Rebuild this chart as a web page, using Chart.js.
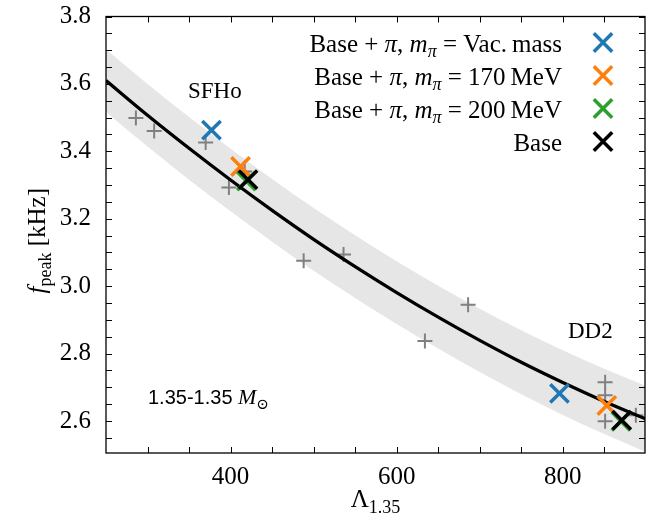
<!DOCTYPE html>
<html>
<head>
<meta charset="utf-8">
<script src="https://cdn.jsdelivr.net/npm/chart.js@4.4.1/dist/chart.umd.min.js"></script>
<style>
  html, body { margin: 0; padding: 0; background: #fff; }
  #wrap { width: 670px; height: 520px; position: relative; }
</style>
</head>
<body>
<div id="wrap"><canvas id="fpeak"></canvas></div>
<script>
// fit through all models + its grey band
const fitLambda = [250, 300, 350, 400, 450, 500, 550, 600, 650, 700, 750, 800, 850, 900];
const fitFreq   = [3.610, 3.507, 3.409, 3.315, 3.225, 3.139, 3.058, 2.981, 2.908, 2.839, 2.774, 2.714, 2.658, 2.606];
const bandUpper = [3.703, 3.600, 3.502, 3.408, 3.318, 3.232, 3.151, 3.074, 3.001, 2.933, 2.869, 2.810, 2.755, 2.704];
const bandLower = [3.517, 3.414, 3.316, 3.222, 3.132, 3.046, 2.965, 2.888, 2.815, 2.745, 2.679, 2.618, 2.561, 2.508];

// other EOS models (grey plus)
const otherLambda = [286, 308, 370, 398, 417, 488, 536, 634, 686, 851, 851, 851, 888];
const otherFreq   = [3.499, 3.460, 3.426, 3.293, 3.340, 3.075, 3.094, 2.837, 2.945, 2.715, 2.676, 2.599, 2.617];

// SFHo, DD2 runs
const vacLambda  = [377, 796];
const vacFreq    = [3.463, 2.682];
const m170Lambda = [412, 853];
const m170Freq   = [3.355, 2.646];
const m200Lambda = [419, 870];
const m200Freq   = [3.312, 2.599];
const baseLambda = [421, 871];
const baseFreq   = [3.316, 2.602];

// ticks
const xTicks = [300, 350, 400, 450, 500, 550, 600, 650, 700, 750, 800, 850];
const xTickLabels = [400, 600, 800];
const yTicks = [2.55, 2.6, 2.65, 2.7, 2.75, 2.8, 2.85, 2.9, 2.95, 3.0, 3.05, 3.1, 3.15,
                3.2, 3.25, 3.3, 3.35, 3.4, 3.45, 3.5, 3.55, 3.6, 3.65, 3.7, 3.75, 3.8];
const yTickLabels = [2.6, 2.8, 3.0, 3.2, 3.4, 3.6, 3.8];

const serif = '"Liberation Serif", "DejaVu Serif", serif';
const sans = '"Liberation Sans", "DejaVu Sans", sans-serif';

const colors = { vac: '#1f77b4', m170: '#ff7f0e', m200: '#2ca02c', base: '#000000' };

// legend rows: [text, style]   r = roman, i = italic, s.. = subscript
const legendRows = [
    { color: colors.vac,  segs: [['Base', 'r'], [' + ', 'r'], ['π', 'i'], [', ', 'r'], ['m', 'i'], ['π', 'si'], [' = ', 'r'], ['Vac.\u2009mass', 'r']] },
    { color: colors.m170, segs: [['Base', 'r'], [' + ', 'r'], ['π', 'i'], [', ', 'r'], ['m', 'i'], ['π', 'si'], [' = ', 'r'], ['170\u2009MeV', 'r']] },
    { color: colors.m200, segs: [['Base', 'r'], [' + ', 'r'], ['π', 'i'], [', ', 'r'], ['m', 'i'], ['π', 'si'], [' = ', 'r'], ['200\u2009MeV', 'r']] },
    { color: colors.base, segs: [['Base', 'r']] },
];

const pts = (xs, ys) => xs.map((v, i) => ({ x: v, y: ys[i] }));

const drawRich = (ctx, segs, x, y, size, align) => {
    const fontFor = (st) => {
        const small = st[0] === 's';
        const italic = st.indexOf('i') >= 0;
        const sz = small ? Math.round(size * 0.7) : size;
        return { font: (italic ? 'italic ' : '') + sz + 'px ' + serif, dy: small ? size * 0.22 : 0 };
    };
    ctx.save();
    ctx.textBaseline = 'alphabetic';
    ctx.textAlign = 'left';
    ctx.fillStyle = '#000';
    let total = 0;
    segs.forEach(([t, st]) => { ctx.font = fontFor(st).font; total += ctx.measureText(t).width; });
    let cx = align === 'right' ? x - total : align === 'center' ? x - total / 2 : x;
    segs.forEach(([t, st]) => {
        const f = fontFor(st);
        ctx.font = f.font;
        ctx.fillText(t, cx, y + f.dy);
        cx += ctx.measureText(t).width;
    });
    ctx.restore();
};

const frameAndText = {
    id: 'frameAndText',
    afterDraw(chart) {
        const { ctx, chartArea: a, scales: { x, y } } = chart;
        ctx.save();

        // inward ticks on all four sides
        ctx.strokeStyle = '#000';
        ctx.lineWidth = 1;
        ctx.beginPath();
        x.ticks.forEach(t => {
            const px = Math.round(x.getPixelForValue(t.value)) + 0.5;
            ctx.moveTo(px, a.bottom); ctx.lineTo(px, a.bottom - 6);
            ctx.moveTo(px, a.top); ctx.lineTo(px, a.top + 6);
        });
        y.ticks.forEach(t => {
            const py = Math.round(y.getPixelForValue(t.value)) + 0.5;
            ctx.moveTo(a.left, py); ctx.lineTo(a.left + 6, py);
            ctx.moveTo(a.right, py); ctx.lineTo(a.right - 6, py);
        });
        ctx.stroke();
        ctx.lineWidth = 1.3;
        ctx.strokeRect(a.left, a.top, a.right - a.left, a.bottom - a.top);

        // axis titles
        drawRich(ctx, [['Λ', 'r'], ['1.35', 'sr']], (a.left + a.right) / 2, 507, 25, 'center');
        ctx.save();
        ctx.translate(45, (a.top + a.bottom) / 2 + 6);
        ctx.rotate(-Math.PI / 2);
        drawRich(ctx, [['f', 'i'], ['peak', 'sr'], [' [kHz]', 'r']], 0, 0, 25, 'center');
        ctx.restore();

        // annotations
        ctx.fillStyle = '#000';
        ctx.textBaseline = 'alphabetic';
        ctx.textAlign = 'left';
        ctx.font = '23px ' + serif;
        ctx.fillText('SFHo', 188, 98);
        ctx.fillText('DD2', 568, 338);
        ctx.font = '20px ' + sans;
        ctx.fillText('1.35-1.35', 148, 404);
        drawRich(ctx, [['M', 'i'], ['\u2299', 'sr']], 238, 404, 22, 'left');

        // legend
        legendRows.forEach((row, i) => {
            const base = 51.5 + i * 33;
            drawRich(ctx, row.segs, 562, base, 25, 'right');
            ctx.strokeStyle = row.color;
            ctx.lineWidth = 3.5;
            Chart.helpers.drawPoint(ctx, { pointStyle: 'crossRot', radius: 13, rotation: 0, borderWidth: 3.5 }, 603, base - 9);
        });
        ctx.restore();
    }
};

const crossSet = (label, xs, ys, color, order) => ({
    label: label,
    data: pts(xs, ys),
    pointStyle: 'crossRot',
    pointRadius: 13,
    pointBorderWidth: 3.5,
    borderColor: color,
    backgroundColor: color,
    order: order,
});

new Chart(document.getElementById('fpeak'), {
    type: 'scatter',
    data: {
        datasets: [
            {
                label: 'band upper',
                data: pts(fitLambda, bandUpper),
                showLine: true,
                fill: '+1',
                backgroundColor: '#e6e6e6',
                borderColor: 'rgba(0,0,0,0)',
                borderWidth: 0,
                pointRadius: 0,
                cubicInterpolationMode: 'monotone',
                order: 10,
            },
            {
                label: 'band lower',
                data: pts(fitLambda, bandLower),
                showLine: true,
                fill: false,
                borderColor: 'rgba(0,0,0,0)',
                borderWidth: 0,
                pointRadius: 0,
                cubicInterpolationMode: 'monotone',
                order: 11,
            },
            {
                label: 'other EOS',
                data: pts(otherLambda, otherFreq),
                pointStyle: 'cross',
                pointRadius: 7.5,
                pointBorderWidth: 2,
                borderColor: '#808080',
                backgroundColor: '#808080',
                order: 5,
            },
            {
                label: 'fit',
                data: pts(fitLambda, fitFreq),
                showLine: true,
                borderColor: '#000',
                borderWidth: 3.3,
                pointRadius: 0,
                fill: false,
                cubicInterpolationMode: 'monotone',
                order: 3,
            },
            crossSet('vac', vacLambda, vacFreq, colors.vac, 2.4),
            crossSet('170', m170Lambda, m170Freq, colors.m170, 2.3),
            crossSet('200', m200Lambda, m200Freq, colors.m200, 2.2),
            crossSet('base', baseLambda, baseFreq, colors.base, 2.1),
        ]
    },
    options: {
        responsive: true,
        maintainAspectRatio: false,
        animation: false,
        events: [],
        layout: {
            padding: { left: 0, right: 25, top: 13, bottom: 0 }
        },
        plugins: {
            legend: { display: false },
            tooltip: { enabled: false },
            title: { display: false },
        },
        scales: {
            x: {
                type: 'linear',
                min: 250,
                max: 899,
                afterBuildTicks: (s) => { s.ticks = xTicks.map(v => ({ value: v })); },
                afterFit: (s) => { s.height = 67; s.paddingLeft = 0; s.paddingRight = 0; },
                grid: { display: false, drawTicks: false },
                border: { display: false },
                ticks: {
                    autoSkip: false,
                    maxRotation: 0,
                    padding: 9,
                    color: '#000',
                    font: { family: serif, size: 25 },
                    callback: (v) => xTickLabels.includes(v) ? String(v) : '',
                },
            },
            y: {
                type: 'linear',
                min: 2.505,
                max: 3.8,
                afterBuildTicks: (s) => { s.ticks = yTicks.map(v => ({ value: v })); },
                afterFit: (s) => { s.width = 106; s.paddingTop = 0; s.paddingBottom = 0; },
                grid: { display: false, drawTicks: false },
                border: { display: false },
                ticks: {
                    autoSkip: false,
                    padding: 15,
                    color: '#000',
                    font: { family: serif, size: 25 },
                    callback: (v) => yTickLabels.some(l => Math.abs(l - v) < 1e-6) ? v.toFixed(1) : '',
                },
            }
        }
    },
    plugins: [frameAndText],
});
</script>
</body>
</html>
